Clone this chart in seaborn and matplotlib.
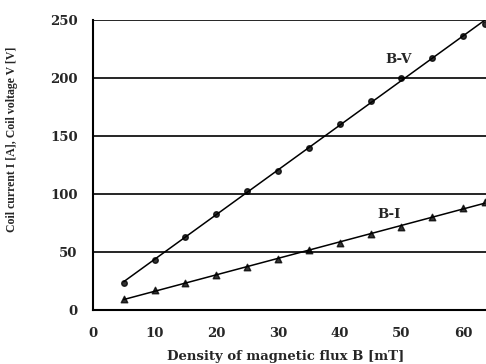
import numpy as np
import pandas as pd
import seaborn as sns
import matplotlib.pyplot as plt

# data
B = [5, 10, 15, 20, 25, 30, 35, 40, 45, 50, 55, 60, 63.5]
V = [23, 43, 63, 83, 103, 120, 140, 160, 180, 200, 217, 236, 247]
I = [10, 17, 23, 30, 37, 44, 52, 58, 66, 72, 80, 88, 93]

df = pd.DataFrame({'B': B, 'V': V, 'I': I})

sns.set_style('white')
plt.rcParams['font.family'] = ['DejaVu Serif']
plt.rcParams['font.weight'] = 'bold'

fig = plt.figure(figsize=(4.86, 3.64), dpi=100)
ax = fig.add_axes([0.191, 0.148, 0.809, 0.797])

# horizontal grid lines
for y in [50, 100, 150, 200, 250]:
    ax.axhline(y, color='black', lw=1.2, zorder=1)

sns.regplot(x='B', y='V', data=df, ax=ax, ci=None, color='black', marker='o',
            scatter_kws={'s': 16}, line_kws={'lw': 1.1})
sns.regplot(x='B', y='I', data=df, ax=ax, ci=None, color='black', marker='^',
            scatter_kws={'s': 22}, line_kws={'lw': 1.1})

ax.text(49.5, 216, 'B-V', fontsize=9.5, fontweight='bold', ha='center', va='center')
ax.text(48, 82, 'B-I', fontsize=9.5, fontweight='bold', ha='center', va='center')

ax.set_xlim(0, 63.7)
ax.set_ylim(0, 250)
ax.set_xticks([0, 10, 20, 30, 40, 50, 60])
ax.set_yticks([0, 50, 100, 150, 200, 250])
ax.tick_params(axis='both', labelsize=9.5, direction='in', length=3, width=1)
ax.tick_params(axis='x', pad=12)
ax.tick_params(axis='y', length=0, pad=11)
for lab in ax.get_xticklabels() + ax.get_yticklabels():
    lab.set_fontweight('bold')

ax.set_xlabel('Density of magnetic flux B [mT]', fontsize=9.5, fontweight='bold')
ax.set_ylabel('Coil current I [A], Coil voltage V [V]', fontsize=8.5,
              fontweight='bold', family='Liberation Serif')
ax.xaxis.set_label_coords(0.49, -0.138)
ax.yaxis.set_label_coords(-0.19, 0.59)

for side in ['left', 'bottom']:
    ax.spines[side].set_color('black')
    ax.spines[side].set_linewidth(1.5)
ax.spines['top'].set_visible(False)
ax.spines['right'].set_visible(False)

fig.savefig('out.png', dpi=100)
